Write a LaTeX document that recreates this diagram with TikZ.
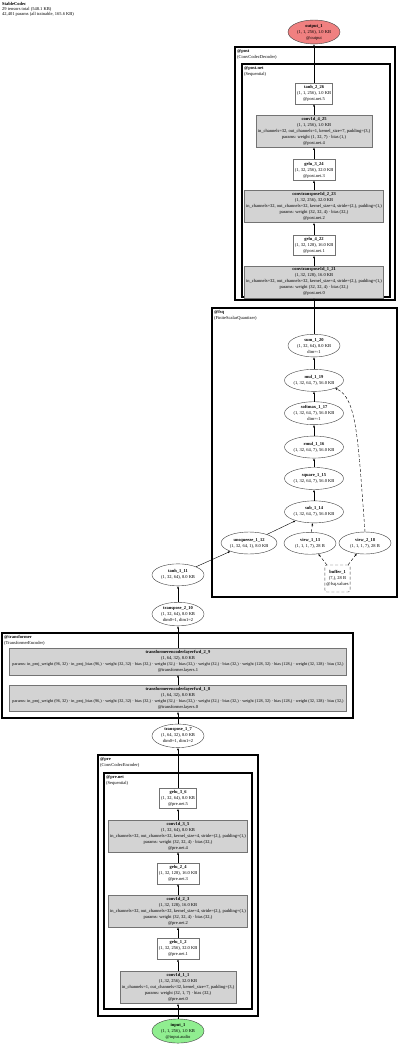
\documentclass[tikz,border=0pt]{standalone}
\usepackage{fontspec}
\setmainfont{Liberation Serif}
\usetikzlibrary{positioning,shapes.geometric,arrows.meta}
\definecolor{modgray}{HTML}{D3D3D3}
\definecolor{inputgreen}{HTML}{90EE90}
\definecolor{outputred}{HTML}{F08080}
\newcommand{\tfparams}{{\fontsize{4.25}{6}\selectfont params: in\_proj\_weight (96, 32) · in\_proj\_bias (96,) · weight (32, 32) · bias (32,) · weight (32,) · bias (32,) · weight (32,) · bias (32,) · weight (128, 32) · bias (128,) · weight (32, 128) · bias (32,)}}

\begin{document}
\begin{tikzpicture}[x=1pt, y=1pt, >={Latex[length=2.4pt,width=2pt]},
	every node/.style={font=\fontsize{4.5}{6}\selectfont, align=center, inner xsep=1.5pt, inner ysep=1pt},
	opnode/.style={ellipse, draw=black!75, fill=white, inner sep=0.5pt, minimum width=52pt, minimum height=22pt},
	modbox/.style={rectangle, draw=black!55, fill=modgray, minimum height=32pt},
	actbox/.style={rectangle, draw=black!55, fill=white, minimum height=20.5pt},
	bufbox/.style={rectangle, rounded corners=2pt, draw=black!75, densely dashed, minimum height=27pt},
	cluster/.style={draw=black, line width=1.3pt},
	clabel/.style={anchor=north west, align=left, inner sep=0pt}]
			\useasboundingbox (0,0) rectangle (400,-1048);
			\node (title) [clabel, font=\fontsize{4.5}{5.2}\selectfont] at (2,-2) {\textbf{StableCodec}\\29 tensors total (548.1 KB)\\42,401 params (all trainable, 165.6 KB)};
			% Clusters
			\draw[cluster] (235,-47) rectangle (395,-300);
			\node (post_lbl) [clabel] at (237,-49) {\textbf{@post}\\(ConvCodecDecoder)};
			\draw[cluster] (242,-64) rectangle (390,-297);
			\node (postnet_lbl) [clabel] at (244,-66) {\textbf{@post.net}\\(Sequential)};
			\draw[cluster] (212,-308) rectangle (397,-597);
			\node (fsq_lbl) [clabel] at (214,-310) {\textbf{@fsq}\\(FiniteScalarQuantizer)};
			\draw[cluster] (2,-633) rectangle (353,-718);
			\node (transformer_lbl) [clabel] at (4,-635) {\textbf{@transformer}\\(TransformerEncoder)};
			\draw[cluster] (98,-755) rectangle (258,-1016);
			\node (pre_lbl) [clabel] at (100,-757) {\textbf{@pre}\\(ConvCodecEncoder)};
			\draw[cluster] (104,-773) rectangle (252,-1009);
			\node (prenet_lbl) [clabel] at (106,-775) {\textbf{@pre.net}\\(Sequential)};
			% Decoder side
			\node (output_1) [opnode, fill=outputred] at (314,-32) {\textbf{output\_1}\\(1, 1, 256), 1.0 KB\\@output};
			\node (tanh_2_26) [actbox, below=39pt of output_1] {\textbf{tanh\_2\_26}\\(1, 1, 256), 1.0 KB\\@post.net.5};
			\node (conv1d_4_25) [modbox, below=11pt of tanh_2_26] {\textbf{conv1d\_4\_25}\\(1, 1, 256), 1.0 KB\\in\_channels=32, out\_channels=1, kernel\_size=7, padding=(3,)\\params: weight (1, 32, 7) · bias (1,)\\@post.net.4};
			\node (gelu_3_24) [actbox, below=12pt of conv1d_4_25] {\textbf{gelu\_3\_24}\\(1, 32, 256), 32.0 KB\\@post.net.3};
			\node (convtranspose1d_2_23) [modbox, below=10pt of gelu_3_24] {\textbf{convtranspose1d\_2\_23}\\(1, 32, 256), 32.0 KB\\in\_channels=32, out\_channels=32, kernel\_size=4, stride=(2,), padding=(1,)\\params: weight (32, 32, 4) · bias (32,)\\@post.net.2};
			\node (gelu_4_22) [actbox, below=12pt of convtranspose1d_2_23] {\textbf{gelu\_4\_22}\\(1, 32, 128), 16.0 KB\\@post.net.1};
			\node (convtranspose1d_1_21) [modbox, below=10pt of gelu_4_22] {\textbf{convtranspose1d\_1\_21}\\(1, 32, 128), 16.0 KB\\in\_channels=32, out\_channels=32, kernel\_size=4, stride=(2,), padding=(1,)\\params: weight (32, 32, 4) · bias (32,)\\@post.net.0};
			% Quantizer
			\node (sum_1_20) [opnode, below=36pt of convtranspose1d_1_21] {\textbf{sum\_1\_20}\\(1, 32, 64), 8.0 KB\\dim=-1};
			\node (mul_1_19) [opnode, below=12pt of sum_1_20] {\textbf{mul\_1\_19}\\(1, 32, 64, 7), 56.0 KB};
			\node (softmax_1_17) [opnode, below=10pt of mul_1_19] {\textbf{softmax\_1\_17}\\(1, 32, 64, 7), 56.0 KB\\dim=-1};
			\node (rmul_1_16) [opnode, below=11pt of softmax_1_17] {\textbf{rmul\_1\_16}\\(1, 32, 64, 7), 56.0 KB};
			\node (square_1_15) [opnode, below=9pt of rmul_1_16] {\textbf{square\_1\_15}\\(1, 32, 64, 7), 56.0 KB};
			\node (sub_1_14) [opnode, below=11pt of square_1_15] {\textbf{sub\_1\_14}\\(1, 32, 64, 7), 56.0 KB};
			\node (view_1_13) [opnode, below=9pt of sub_1_14, xshift=-4pt] {\textbf{view\_1\_13}\\(1, 1, 1, 7), 28 B};
			\node (unsqueeze_1_12) [opnode] at (249,-543) {\textbf{unsqueeze\_1\_12}\\(1, 32, 64, 1), 8.0 KB};
			\node (view_2_18) [opnode] at (365,-543) {\textbf{view\_2\_18}\\(1, 1, 1, 7), 28 B};
			\node (buffer_1) [bufbox] at (337.5,-578.5) {\textbf{buffer\_1}\\(7,), 28 B\\@fsq.values};
			% Encoder side
			\node (input_1) [opnode, fill=inputgreen] at (178,-1031) {\textbf{input\_1}\\(1, 1, 256), 1.0 KB\\@input.audio};
			\node (conv1d_1_1) [modbox, above=15pt of input_1] {\textbf{conv1d\_1\_1}\\(1, 32, 256), 32.0 KB\\in\_channels=1, out\_channels=32, kernel\_size=7, padding=(3,)\\params: weight (32, 1, 7) · bias (32,)\\@pre.net.0};
			\node (gelu_1_2) [actbox, above=12pt of conv1d_1_1] {\textbf{gelu\_1\_2}\\(1, 32, 256), 32.0 KB\\@pre.net.1};
			\node (conv1d_2_3) [modbox, above=11pt of gelu_1_2] {\textbf{conv1d\_2\_3}\\(1, 32, 128), 16.0 KB\\in\_channels=32, out\_channels=32, kernel\_size=4, stride=(2,), padding=(1,)\\params: weight (32, 32, 4) · bias (32,)\\@pre.net.2};
			\node (gelu_2_4) [actbox, above=11pt of conv1d_2_3] {\textbf{gelu\_2\_4}\\(1, 32, 128), 16.0 KB\\@pre.net.3};
			\node (conv1d_3_5) [modbox, above=11pt of gelu_2_4] {\textbf{conv1d\_3\_5}\\(1, 32, 64), 8.0 KB\\in\_channels=32, out\_channels=32, kernel\_size=4, stride=(2,), padding=(1,)\\params: weight (32, 32, 4) · bias (32,)\\@pre.net.4};
			\node (gelu_3_6) [actbox, above=11pt of conv1d_3_5] {\textbf{gelu\_3\_6}\\(1, 32, 64), 8.0 KB\\@pre.net.5};
			\node (transpose_1_7) [opnode, above=40pt of gelu_3_6] {\textbf{transpose\_1\_7}\\(1, 64, 32), 8.0 KB\\dim0=1, dim1=2};
			\node (transformerencoderlayerfwd_1_8) [modbox, minimum height=26.5pt, minimum width=337pt, inner xsep=0pt, above=12pt of transpose_1_7] {\textbf{transformerencoderlayerfwd\_1\_8}\\(1, 64, 32), 8.0 KB\\\tfparams\\@transformer.layers.0};
			\node (transformerencoderlayerfwd_2_9) [modbox, minimum height=26.5pt, minimum width=337pt, inner xsep=0pt, above=10pt of transformerencoderlayerfwd_1_8] {\textbf{transformerencoderlayerfwd\_2\_9}\\(1, 64, 32), 8.0 KB\\\tfparams\\@transformer.layers.1};
			\node (transpose_2_10) [opnode, above=22pt of transformerencoderlayerfwd_2_9] {\textbf{transpose\_2\_10}\\(1, 32, 64), 8.0 KB\\dim0=1, dim1=2};
			\node (tanh_1_11) [opnode, above=16pt of transpose_2_10] {\textbf{tanh\_1\_11}\\(1, 32, 64), 8.0 KB};
			% Arrows
			\draw[->] (input_1) -- (conv1d_1_1);
			\draw[->] (conv1d_1_1) -- (gelu_1_2);
			\draw[->] (gelu_1_2) -- (conv1d_2_3);
			\draw[->] (conv1d_2_3) -- (gelu_2_4);
			\draw[->] (gelu_2_4) -- (conv1d_3_5);
			\draw[->] (conv1d_3_5) -- (gelu_3_6);
			\draw[->] (gelu_3_6) -- (transpose_1_7);
			\draw[->] (transpose_1_7) -- (transformerencoderlayerfwd_1_8);
			\draw[->] (transformerencoderlayerfwd_1_8) -- (transformerencoderlayerfwd_2_9);
			\draw[->] (transformerencoderlayerfwd_2_9) -- (transpose_2_10);
			\draw[->] (transpose_2_10) -- (tanh_1_11);
			\draw[->] (tanh_1_11) -- (unsqueeze_1_12);
			\draw[->] (unsqueeze_1_12) -- (sub_1_14);
			\draw[->, densely dashed] (view_1_13) -- (sub_1_14);
			\draw[->, densely dashed] (buffer_1) -- (view_1_13);
			\draw[->, densely dashed] (buffer_1) -- (view_2_18);
			\draw[->] (sub_1_14) -- (square_1_15);
			\draw[->] (square_1_15) -- (rmul_1_16);
			\draw[->] (rmul_1_16) -- (softmax_1_17);
			\draw[->] (softmax_1_17) -- (mul_1_19);
			\draw[->, densely dashed] (view_2_18.north) .. controls (358,-440) and (357,-398) .. (mul_1_19.south east);
			\draw[->] (mul_1_19) -- (sum_1_20);
			\draw[->] (sum_1_20) -- (convtranspose1d_1_21);
			\draw[->] (convtranspose1d_1_21) -- (gelu_4_22);
			\draw[->] (gelu_4_22) -- (convtranspose1d_2_23);
			\draw[->] (convtranspose1d_2_23) -- (gelu_3_24);
			\draw[->] (gelu_3_24) -- (conv1d_4_25);
			\draw[->] (conv1d_4_25) -- (tanh_2_26);
			\draw[->] (tanh_2_26) -- (output_1);
		\end{tikzpicture}
\end{document}
